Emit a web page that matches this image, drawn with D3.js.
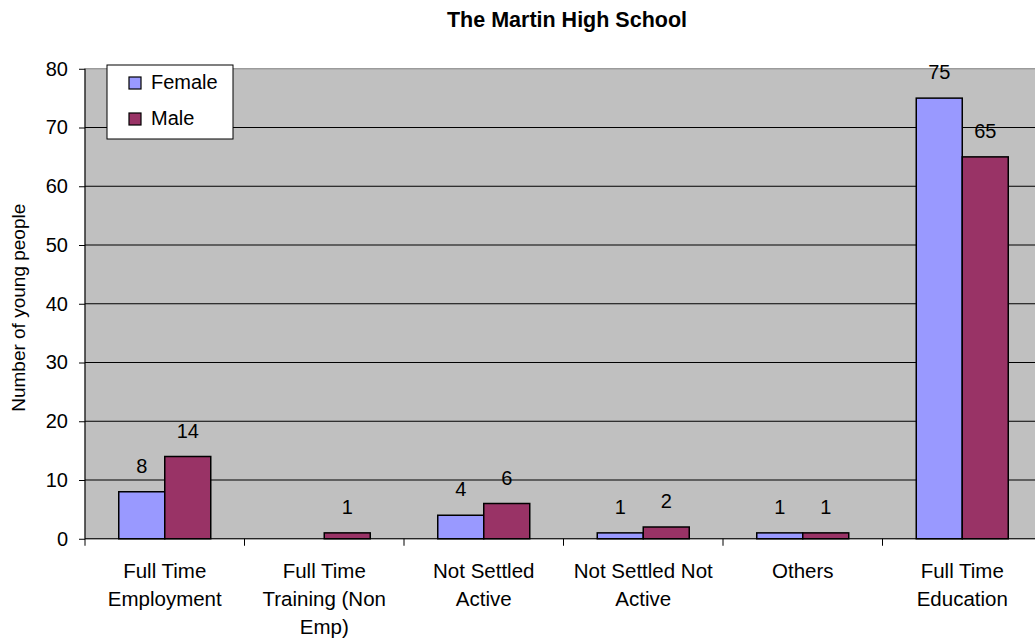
<!DOCTYPE html>
<html>
<head>
<meta charset="utf-8">
<script src="https://cdn.jsdelivr.net/npm/d3@7"></script>
<style>
  body { margin: 0; background: #fff; }
  text { font-family: "Liberation Sans", Arial, sans-serif; fill: #000; }
</style>
</head>
<body>
<svg id="chart"></svg>
<script>
// chart data
const categories = [
  ['Full Time', 'Employment'],
  ['Full Time', 'Training (Non', 'Emp)'],
  ['Not Settled', 'Active'],
  ['Not Settled Not', 'Active'],
  ['Others'],
  ['Full Time', 'Education']
]
const female = [8, 0, 4, 1, 1, 75]
const male = [14, 1, 6, 2, 1, 65]
const seriesNames = ['Female', 'Male']
const colors = ['#9999ff', '#993366']
const yTicks = [0, 10, 20, 30, 40, 50, 60, 70, 80]

const W = 1035, H = 642
const plotLeft = 85, plotTop = 68.75, plotW = 957, plotH = 470

const svg = d3.select('#chart').attr('width', W).attr('height', H)

const x = d3.scaleBand().domain(d3.range(categories.length)).range([plotLeft, plotLeft + plotW])
const xInner = d3.scaleBand().domain([0, 1]).range([0, 92])
const y = d3.scaleLinear().domain([0, 80]).range([plotTop + plotH, plotTop])

// plot background
svg.append('rect')
  .attr('x', plotLeft).attr('y', plotTop)
  .attr('width', plotW).attr('height', plotH)
  .attr('fill', '#c0c0c0')
  .attr('stroke', '#808080')

// gridlines
svg.append('g')
  .selectAll('line')
  .data(yTicks.slice(1, -1))
  .join('line')
  .attr('x1', plotLeft).attr('x2', plotLeft + plotW)
  .attr('y1', d => y(d)).attr('y2', d => y(d))
  .attr('stroke', '#000').attr('stroke-width', 1)

// bars
const rows = categories.map((c, i) => [female[i], male[i]])
const groups = svg.append('g')
  .selectAll('g')
  .data(rows)
  .join('g')
  .attr('transform', (d, i) => `translate(${x(i) + x.bandwidth() / 2 - 46},0)`)

groups.selectAll('rect')
  .data(d => d)
  .join('rect')
  .attr('x', (v, j) => xInner(j))
  .attr('y', v => y(v))
  .attr('width', xInner.bandwidth())
  .attr('height', v => y(0) - y(v))
  .attr('fill', (v, j) => colors[j])
  .attr('stroke', '#000')
  .attr('stroke-width', 1.5)

groups.selectAll('text')
  .data(d => d)
  .join('text')
  .attr('x', (v, j) => xInner(j) + xInner.bandwidth() / 2)
  .attr('y', v => y(v) - 19)
  .attr('text-anchor', 'middle')
  .attr('font-size', 20)
  .text(v => v > 0 ? v : '')

// y axis
const yAxis = d3.axisLeft(y).tickValues(yTicks).tickSize(6).tickPadding(11)
const gy = svg.append('g').attr('transform', `translate(${plotLeft},0)`).call(yAxis)
gy.select('.domain').attr('stroke', '#000').attr('d', `M0,${plotTop}V${plotTop + plotH}`)
gy.selectAll('.tick line').attr('stroke', '#000')
gy.selectAll('.tick text').attr('font-size', 20).attr('font-family', '"Liberation Sans", Arial, sans-serif')

// x axis
const gx = svg.append('g')
gx.append('line')
  .attr('x1', plotLeft).attr('x2', plotLeft + plotW)
  .attr('y1', y(0)).attr('y2', y(0))
  .attr('stroke', '#000')
gx.selectAll('.tk')
  .data(d3.range(categories.length))
  .join('line')
  .attr('x1', i => x(i)).attr('x2', i => x(i))
  .attr('y1', y(0)).attr('y2', y(0) + 7)
  .attr('stroke', '#000')
gx.selectAll('.lbl')
  .data(categories)
  .join('text')
  .attr('text-anchor', 'middle')
  .attr('font-size', 20.5)
  .attr('transform', (d, i) => `translate(${x(i) + x.bandwidth() / 2},578)`)
  .selectAll('tspan')
  .data(d => d)
  .join('tspan')
  .attr('x', 0)
  .attr('dy', (t, k) => k === 0 ? 0 : 28)
  .text(t => t)

// y axis label
svg.append('text')
  .attr('transform', `translate(25,${plotTop + plotH / 2 + 4}) rotate(-90)`)
  .attr('text-anchor', 'middle')
  .attr('font-size', 19)
  .text('Number of young people')

// title
svg.append('text')
  .attr('x', 567).attr('y', 27)
  .attr('text-anchor', 'middle')
  .attr('font-size', 21.5)
  .attr('font-weight', 'bold')
  .text('The Martin High School')

// legend
const lg = svg.append('g').attr('transform', 'translate(107,65)')
lg.append('rect').attr('width', 126).attr('height', 74).attr('fill', '#fff').attr('stroke', '#000')
const items = lg.selectAll('g').data(seriesNames).join('g')
  .attr('transform', (d, i) => `translate(22,${18 + i * 36})`)
items.append('rect')
  .attr('y', -6).attr('width', 12).attr('height', 12)
  .attr('fill', (d, i) => colors[i]).attr('stroke', '#000').attr('stroke-width', 1.2)
items.append('text')
  .attr('x', 22).attr('y', 6)
  .attr('font-size', 20)
  .text(d => d)
</script>
</body>
</html>
